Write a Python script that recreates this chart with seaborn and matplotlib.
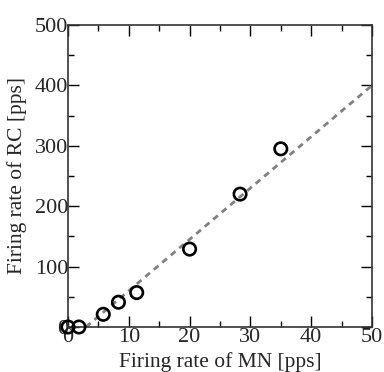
import numpy as np
import matplotlib
matplotlib.use("Agg")
import matplotlib.pyplot as plt
from matplotlib.ticker import MultipleLocator
import seaborn as sns

# measured points
mn_rate = [0.0, 1.8, 5.8, 8.3, 11.3, 20.0, 28.3, 35.0]
rc_rate = [0, 0, 21, 41, 57, 129, 220, 295]

# linear fit line
fit_x = [2.94, 50]
fit_y = [0, 400]

sns.set_style("ticks")
plt.rcParams['font.family'] = ['Liberation Serif', 'DejaVu Serif']

fig = plt.figure(figsize=(3.84, 3.72), dpi=100)
ax = fig.add_axes([68 / 384, 45 / 372, 304 / 384, 302 / 372])

sns.lineplot(x=fit_x, y=fit_y, ax=ax, color="#808080", linewidth=2,
             linestyle=(0, (2.2, 1.8)), zorder=2)
sns.scatterplot(x=mn_rate, y=rc_rate, ax=ax, marker="o", s=80,
                facecolor="none", edgecolor="black", linewidth=1.9,
                zorder=3, clip_on=False)

ax.set_xlim(0, 50)
ax.set_ylim(0, 500)
ax.xaxis.set_major_locator(MultipleLocator(10))
ax.xaxis.set_minor_locator(MultipleLocator(5))
ax.yaxis.set_major_locator(MultipleLocator(100))
ax.yaxis.set_minor_locator(MultipleLocator(50))
ax.tick_params(which="both", direction="in", top=True, right=True,
               labelsize=16, color="black")
ax.tick_params(axis="x", pad=1)
ax.tick_params(axis="y", pad=0)
ax.tick_params(which="major", length=8, width=1)
ax.tick_params(which="minor", length=4, width=1)
for s in ax.spines.values():
    s.set_linewidth(1.2)
    s.set_color("#333333")

ax.set_xlabel("Firing rate of MN [pps]", fontsize=15.5)
ax.set_ylabel("Firing rate of RC [pps]", fontsize=15.5)
ax.xaxis.set_label_coords(0.5, -0.082)
ax.yaxis.set_label_coords(-0.135, 0.5)

fig.savefig("out.png", dpi=100)
